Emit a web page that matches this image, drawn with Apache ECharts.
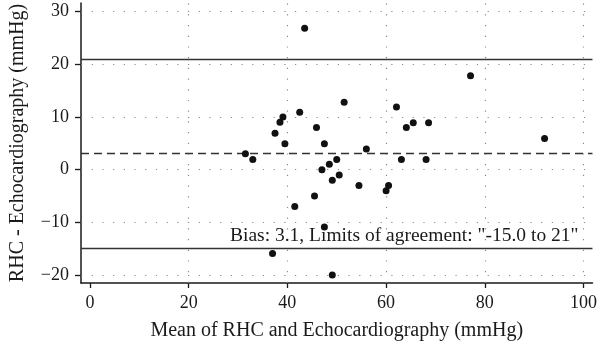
<!DOCTYPE html>
<html>
<head>
<meta charset="utf-8">
<script src="https://cdn.jsdelivr.net/npm/echarts@6/dist/echarts.min.js"></script>
<style>
  html, body { margin: 0; padding: 0; background: #fff; }
  #chart { width: 600px; height: 349px; }
</style>
</head>
<body>
<div id="chart"></div>
<script>
// ---- data ----
const meanValues = [31.5, 33.0, 37.5, 38.5, 39.1, 39.5, 42.5, 43.5, 45.9, 47.5, 47.0, 48.5, 49.1, 50.0, 50.5,
  51.5, 54.5, 56.0, 60.5, 60.0, 62.1, 64.1, 65.5, 68.6, 63.1, 68.1, 45.5, 41.5, 47.5, 37.0, 49.1, 77.1, 92.1];
const diffValues = [3.0, 1.9, 6.9, 9.0, 10.0, 4.9, 10.9, 26.8, 8.0, 4.9, 0.0, 1.0, -2.0, 1.9, -1.0,
  12.8, -3.0, 3.9, -3.0, -4.0, 11.9, 8.0, 8.9, 8.9, 1.9, 1.9, -5.0, -7.0, -10.9, -15.9, -20.0, 17.8, 5.9];
const bias = 3.1;
const upperLimit = 21;
const lowerLimit = -15;
const xTickValues = [0, 20, 40, 60, 80, 100];
const yTickValues = [-20, -10, 0, 10, 20, 30];
const xGridValues = [20, 40, 60, 80, 100];
const yGridValues = [-20, -10, 0, 10, 20, 30];
const annotationText = 'Bias: 3.1, Limits of agreement: "-15.0 to 21"';
const xTitle = 'Mean of RHC and Echocardiography (mmHg)';
const yTitle = 'RHC - Echocardiography (mmHg)';

// ---- chart ----
const FONT = '"Liberation Serif", "DejaVu Serif", serif';
const chart = echarts.init(document.getElementById('chart'), null, { renderer: 'canvas' });
const points = meanValues.map((m, i) => [m, diffValues[i]]);

const gridLineStyle = { type: [1.2, 9.5], color: '#8a8a8a', width: 1.2 };

chart.setOption({
  animation: false,
  backgroundColor: '#fff',
  grid: { left: 76, right: 6, top: 3, bottom: 66, containLabel: false },
  xAxis: {
    type: 'value',
    min: -1.8,
    max: 101.8,
    name: xTitle,
    nameLocation: 'middle',
    nameGap: 38,
    nameTextStyle: { fontFamily: FONT, fontSize: 20, color: '#1a1a1a' },
    axisLine: { show: true, onZero: false, lineStyle: { color: '#1a1a1a', width: 1.5 } },
    axisTick: { show: true, length: 5, customValues: xTickValues, lineStyle: { color: '#1a1a1a', width: 1.3 } },
    axisLabel: { customValues: xTickValues, margin: 11, fontFamily: FONT, fontSize: 18, color: '#1a1a1a' },
    splitLine: { show: false }
  },
  yAxis: {
    type: 'value',
    min: -21.5,
    max: 31.6,
    name: yTitle,
    nameLocation: 'middle',
    nameGap: 53,
    nameTextStyle: { fontFamily: FONT, fontSize: 20, color: '#1a1a1a' },
    axisLine: { show: true, onZero: false, lineStyle: { color: '#1a1a1a', width: 1.5 } },
    axisTick: { show: true, length: 6, customValues: yTickValues, lineStyle: { color: '#1a1a1a', width: 1.3 } },
    axisLabel: {
      customValues: yTickValues, margin: 12, fontFamily: FONT, fontSize: 18, color: '#1a1a1a',
      formatter: v => String(v).replace('-', '\u2212')
    },
    splitLine: { show: false }
  },
  series: [
    {
      type: 'scatter',
      name: 'grid',
      data: [],
      silent: true,
      markLine: {
        silent: true,
        symbol: 'none',
        label: { show: false },
        lineStyle: gridLineStyle,
        data: [
          ...xGridValues.map(v => ({ xAxis: v })),
          ...yGridValues.map(v => ({ yAxis: v }))
        ]
      }
    },
    {
      type: 'scatter',
      name: 'refs',
      data: [],
      silent: true,
      markLine: {
        silent: true,
        symbol: 'none',
        data: [
          { yAxis: upperLimit, lineStyle: { type: 'solid', color: '#333', width: 1.3 }, label: { show: false } },
          { yAxis: bias, lineStyle: { type: [8, 5], color: '#333', width: 1.3 }, label: { show: false } },
          {
            yAxis: lowerLimit,
            lineStyle: { type: 'solid', color: '#333', width: 1.3 },
            label: {
              show: true,
              position: 'insideEndTop',
              distance: [14, 3],
              formatter: () => annotationText,
              fontFamily: FONT,
              fontSize: 19.5,
              color: '#1a1a1a'
            }
          }
        ]
      }
    },
    {
      type: 'scatter',
      name: 'points',
      data: points,
      symbol: 'circle',
      symbolSize: 7,
      itemStyle: { color: '#111', opacity: 1 },
      z: 5
    }
  ]
});
</script>
</body>
</html>
